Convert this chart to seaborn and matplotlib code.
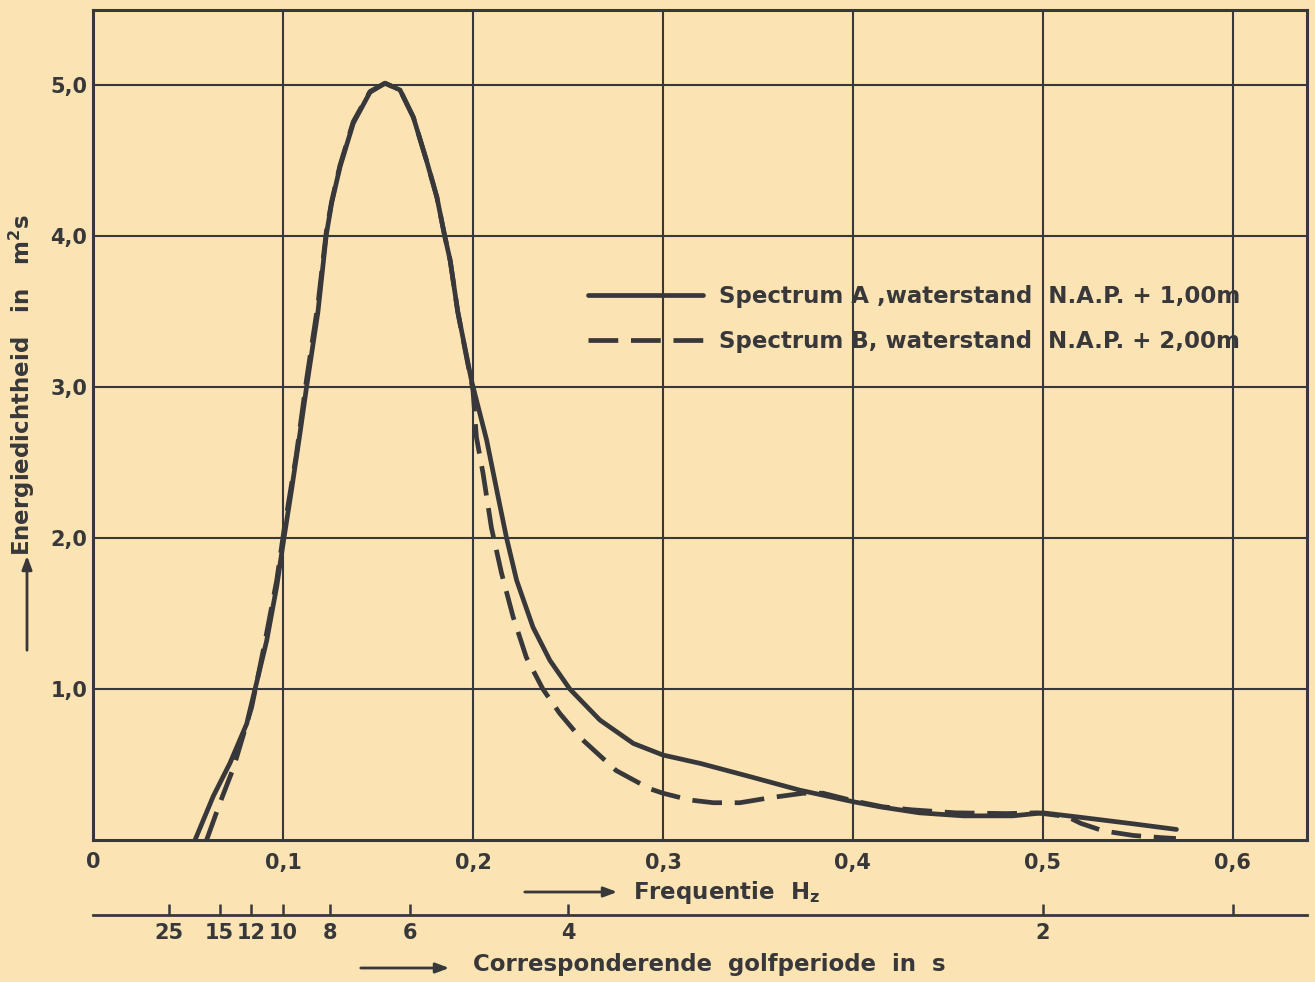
import matplotlib
matplotlib.use("Agg")
import matplotlib.pyplot as plt
import seaborn as sns

# spectrum A (solid) and B (dashed), frequency in Hz, energy density in m2s
freq_a = [0.0537, 0.0633, 0.0721, 0.0809, 0.0853, 0.0914, 0.0967, 0.1005, 0.1045, 0.109,
          0.1125, 0.1184, 0.1228, 0.1256, 0.130, 0.137, 0.1458, 0.1537, 0.1616, 0.1686,
          0.1756, 0.181, 0.185, 0.188, 0.192, 0.1993, 0.2072, 0.2133, 0.2177, 0.223,
          0.2316, 0.2405, 0.251, 0.2668, 0.2844, 0.300, 0.3195, 0.3458, 0.3721, 0.400,
          0.4142, 0.435, 0.458, 0.484, 0.500, 0.520, 0.5458, 0.5703]
dens_a = [0.0, 0.29, 0.51, 0.77, 1.0, 1.32, 1.68, 2.0, 2.32, 2.7,
          3.01, 3.5, 4.01, 4.22, 4.46, 4.75, 4.955, 5.015, 4.97, 4.79,
          4.5, 4.26, 4.01, 3.84, 3.5, 3.04, 2.65, 2.27, 2.0, 1.72,
          1.41, 1.19, 1.0, 0.795, 0.64, 0.563, 0.508, 0.42, 0.33, 0.254,
          0.22, 0.18, 0.16, 0.16, 0.18, 0.15, 0.11, 0.07]

freq_b = [0.0598, 0.0668, 0.074, 0.0835, 0.090, 0.0967, 0.1005, 0.107, 0.1125, 0.1184,
          0.1228, 0.1256, 0.130, 0.137, 0.1458, 0.1537, 0.1616, 0.1686, 0.1756, 0.181,
          0.185, 0.188, 0.192, 0.200, 0.2018, 0.2053, 0.2097, 0.215, 0.2211, 0.2281,
          0.2368, 0.2456, 0.2563, 0.2754, 0.293, 0.300, 0.3142, 0.3265, 0.3405, 0.3563,
          0.3739, 0.3842, 0.400, 0.4158, 0.431, 0.454, 0.4807, 0.497, 0.5128, 0.520,
          0.5319, 0.5477, 0.563, 0.570]
dens_b = [0.0, 0.245, 0.48, 0.88, 1.28, 1.72, 2.05, 2.55, 3.06, 3.55,
          4.03, 4.23, 4.47, 4.76, 4.96, 5.015, 4.97, 4.79, 4.5, 4.26,
          4.01, 3.84, 3.5, 2.98, 2.67, 2.43, 2.07, 1.77, 1.48, 1.21,
          1.0, 0.84, 0.68, 0.46, 0.34, 0.31, 0.265, 0.247, 0.247, 0.28,
          0.31, 0.31, 0.26, 0.22, 0.20, 0.18, 0.175, 0.18, 0.155, 0.11,
          0.06, 0.03, 0.015, 0.01]

freq_ticks = [0, 0.1, 0.2, 0.3, 0.4, 0.5, 0.6]
freq_labels = ["0", "0,1", "0,2", "0,3", "0,4", "0,5", "0,6"]
dens_ticks = [1, 2, 3, 4, 5]
dens_labels = ["1,0", "2,0", "3,0", "4,0", "5,0"]
periods = [25, 15, 12, 10, 8, 6, 4, 2, 5 / 3]
period_labels = ["25", "15", "12", "10", "8", "6", "4", "2", ""]

label_a = "Spectrum A ,waterstand  N.A.P. + 1,00m"
label_b = "Spectrum B, waterstand  N.A.P. + 2,00m"

bg = "#FCE3B3"
ink = "#38383a"

sns.set_style("white")
plt.rcParams["font.family"] = ["DejaVu Sans"]
plt.rcParams["font.weight"] = "bold"

W, H = 1315, 982
fig = plt.figure(figsize=(W / 100, H / 100), dpi=100, facecolor=bg)
ax = fig.add_axes([93 / W, 1 - 840 / H, 1214 / W, 830 / H])
ax.set_facecolor(bg)

sns.lineplot(x=freq_a, y=dens_a, ax=ax, color=ink, lw=3.4, label=label_a)
sns.lineplot(x=freq_b, y=dens_b, ax=ax, color=ink, lw=3.4, linestyle=(0, (6.3, 2.7)),
             label=label_b)

ax.set_xlim(0, 0.639)
ax.set_ylim(0, 5.5)
ax.set_xticks(freq_ticks)
ax.set_xticklabels(freq_labels)
ax.set_yticks(dens_ticks)
ax.set_yticklabels(dens_labels)
ax.tick_params(length=0, labelsize=15, colors=ink)
ax.tick_params(axis="y", pad=4)
ax.tick_params(axis="x", pad=9)
ax.grid(True, color=ink, lw=1.5)
for s in ax.spines.values():
    s.set_color(ink)
    s.set_linewidth(2.2)
ax.set_xlabel("")
ax.set_ylabel("")

leg = ax.legend(loc="upper left", bbox_to_anchor=(0.391, 0.694), frameon=False,
                fontsize=16.5, handlelength=5.0, handletextpad=0.7, labelspacing=0.97)
for t in leg.get_texts():
    t.set_color(ink)

# period axis below the frequency axis
sec = ax.secondary_xaxis(location=-75 / 830)
sec.set_xticks([1 / p for p in periods])
sec.set_xticklabels(period_labels)
sec.tick_params(direction="in", length=8, width=1.8, colors=ink, labelsize=15, pad=6)
sec.spines["bottom"].set_color(ink)
sec.spines["bottom"].set_linewidth(2)

# axis titles with arrows
fig.text(22 / W, 1 - 385 / H, "Energiedichtheid   in   m$^\\mathregular{2}$s", rotation=90,
         ha="center", va="center", fontsize=16.5, color=ink)
fig.text(633 / W, 1 - 892 / H, "Frequentie  H$_\\mathregular{z}$", ha="left", va="center",
         fontsize=16.5, color=ink)
fig.text(473 / W, 1 - 965 / H, "Corresponderende  golfperiode  in  s", ha="left", va="center",
         fontsize=16.5, color=ink)
arrow = dict(arrowstyle="-|>,head_length=0.8,head_width=0.3", color=ink, lw=2)
ax.annotate("", xy=(27 / W, 1 - 553 / H), xytext=(27 / W, 1 - 653 / H),
            xycoords="figure fraction", arrowprops=arrow)
ax.annotate("", xy=(620 / W, 1 - 892 / H), xytext=(522 / W, 1 - 892 / H),
            xycoords="figure fraction", arrowprops=arrow)
ax.annotate("", xy=(452 / W, 1 - 968 / H), xytext=(358 / W, 1 - 968 / H),
            xycoords="figure fraction", arrowprops=arrow)

fig.savefig("out.png", dpi=100, facecolor=bg)
